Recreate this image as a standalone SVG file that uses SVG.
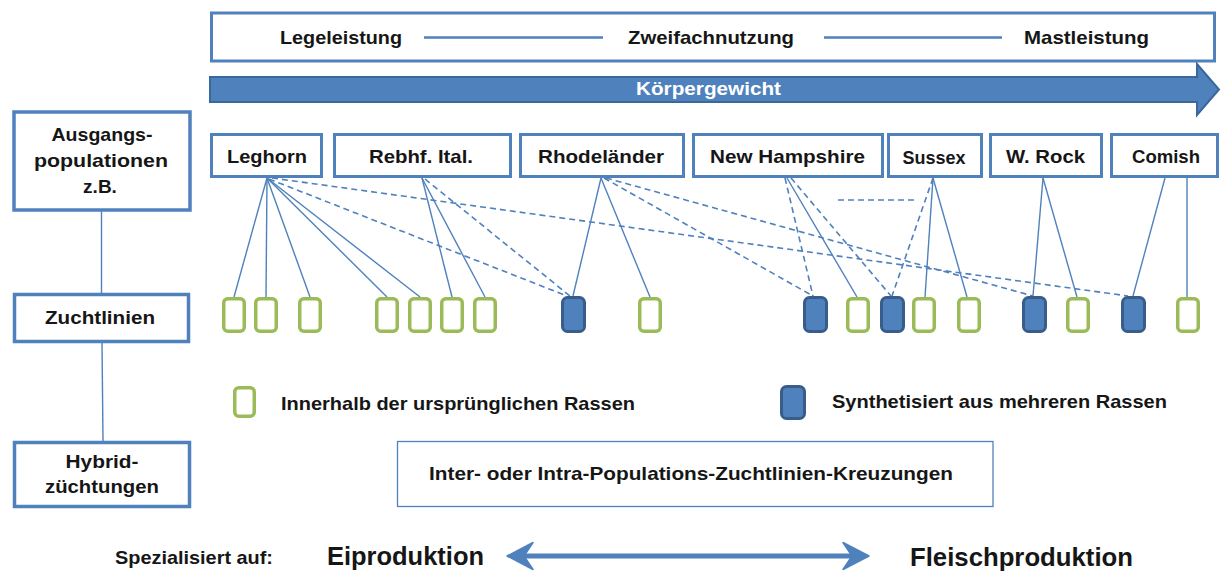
<svg xmlns="http://www.w3.org/2000/svg" width="1224" height="572" viewBox="0 0 1224 572">
<style>
text{font-family:"Liberation Sans",Arial,sans-serif;font-weight:bold;fill:#161616;}
.t19{font-size:19px;}
.t18{font-size:18px;}
.big{font-size:25px;}
.box{fill:#fff;stroke:#4F81BD;stroke-width:3.5;}
.box3{fill:#fff;stroke:#4F81BD;stroke-width:3;}
.thin{fill:#fff;stroke:#4F81BD;stroke-width:1.3;}
.g{fill:#fff;stroke:#9BBB59;stroke-width:3.5;}
.b{fill:#4F81BD;stroke:#385D8A;stroke-width:3;}
.s{stroke:#4F81BD;stroke-width:1.4;fill:none;}
.d{stroke:#4F81BD;stroke-width:1.6;fill:none;stroke-dasharray:6 4;}
</style>

<g id="scale-box">
<rect class="box3" x="211.5" y="13" width="1003" height="48"/>
<text class="t19" x="280" y="44" textLength="122" lengthAdjust="spacingAndGlyphs">Legeleistung</text>
<line x1="424" y1="37.5" x2="603" y2="37.5" stroke="#4F81BD" stroke-width="2.5"/>
<text class="t19" x="628" y="44" textLength="166" lengthAdjust="spacingAndGlyphs">Zweifachnutzung</text>
<line x1="824" y1="37.5" x2="1002" y2="37.5" stroke="#4F81BD" stroke-width="2.5"/>
<text class="t19" x="1024" y="44" textLength="125" lengthAdjust="spacingAndGlyphs">Mastleistung</text>
</g>

<g id="weight-arrow">
<path d="M210,77 L1197,77 L1197,64 L1219,89.5 L1197,115 L1197,102 L210,102 Z" fill="#4F81BD" stroke="#3A679C" stroke-width="2"/>
<text class="t18" x="636" y="95" textLength="145" lengthAdjust="spacingAndGlyphs" style="fill:#fff">Körpergewicht</text>
</g>

<g id="ausgangspopulationen">
<rect class="box" x="14" y="112" width="176" height="98"/>
<text class="t19" x="102" y="141" text-anchor="middle" textLength="101" lengthAdjust="spacingAndGlyphs">Ausgangs-</text>
<text class="t19" x="101" y="167" text-anchor="middle" textLength="134" lengthAdjust="spacingAndGlyphs">populationen</text>
<text class="t19" x="100" y="193" text-anchor="middle">z.B.</text>
</g>

<g id="zuchtlinien">
<rect class="box" x="14.5" y="294.5" width="174" height="47"/>
<text class="t19" x="100" y="324" text-anchor="middle" textLength="110" lengthAdjust="spacingAndGlyphs">Zuchtlinien</text>
</g>

<g id="hybridzuechtungen">
<rect class="box" x="14.5" y="442.5" width="175" height="64"/>
<text class="t19" x="102" y="468" text-anchor="middle" textLength="73" lengthAdjust="spacingAndGlyphs">Hybrid-</text>
<text class="t19" x="102" y="493" text-anchor="middle" textLength="114" lengthAdjust="spacingAndGlyphs">züchtungen</text>
</g>

<g id="breed-leghorn">
<rect class="box3" x="211.5" y="134.5" width="110" height="42"/>
<text class="t19" x="267" y="163" text-anchor="middle" textLength="80" lengthAdjust="spacingAndGlyphs">Leghorn</text>
</g>
<g id="breed-rebhf">
<rect class="box3" x="334.5" y="134.5" width="176" height="42"/>
<text class="t19" x="421" y="163" text-anchor="middle" textLength="104" lengthAdjust="spacingAndGlyphs">Rebhf. Ital.</text>
</g>
<g id="breed-rhodelaender">
<rect class="box3" x="520.5" y="134.5" width="163" height="42"/>
<text class="t19" x="601" y="163" text-anchor="middle" textLength="126" lengthAdjust="spacingAndGlyphs">Rhodeländer</text>
</g>
<g id="breed-newhampshire">
<rect class="box3" x="693.5" y="134.5" width="189" height="42"/>
<text class="t19" x="787.5" y="163" text-anchor="middle" textLength="155" lengthAdjust="spacingAndGlyphs">New Hampshire</text>
</g>
<g id="breed-sussex">
<rect class="box3" x="888.5" y="134.5" width="93" height="42"/>
<text class="t19" x="934" y="164" text-anchor="middle" textLength="63" lengthAdjust="spacingAndGlyphs">Sussex</text>
</g>
<g id="breed-wrock">
<rect class="box3" x="990.5" y="134.5" width="111" height="42"/>
<text class="t19" x="1045.5" y="163" text-anchor="middle" textLength="79" lengthAdjust="spacingAndGlyphs">W. Rock</text>
</g>
<g id="breed-comish">
<rect class="box3" x="1111.5" y="134.5" width="106" height="42"/>
<text class="t19" x="1166" y="163" text-anchor="middle" textLength="68" lengthAdjust="spacingAndGlyphs">Comish</text>
</g>

<g id="connectors">
<line class="s" x1="101.5" y1="211" x2="101.5" y2="293"/>
<line class="s" x1="102" y1="343" x2="103" y2="441"/>
<line class="s" x1="267" y1="178" x2="234" y2="297"/>
<line class="s" x1="267" y1="178" x2="266" y2="297"/>
<line class="s" x1="267" y1="178" x2="310" y2="297"/>
<line class="s" x1="267" y1="178" x2="387" y2="297"/>
<line class="s" x1="267" y1="178" x2="420" y2="297"/>
<line class="d" x1="269" y1="179" x2="567" y2="296"/>
<line class="d" x1="272" y1="178" x2="1128" y2="296"/>
<line class="s" x1="422" y1="178" x2="452" y2="297"/>
<line class="s" x1="422" y1="178" x2="485" y2="297"/>
<line class="d" x1="425" y1="179" x2="570" y2="296"/>
<line class="s" x1="601" y1="178" x2="573" y2="296"/>
<line class="s" x1="601" y1="178" x2="650" y2="297"/>
<line class="d" x1="604" y1="178" x2="813" y2="296"/>
<line class="d" x1="606" y1="178" x2="1033" y2="296"/>
<line class="d" x1="785" y1="178" x2="813" y2="296"/>
<line class="s" x1="787" y1="178" x2="857" y2="297"/>
<line class="d" x1="791" y1="178" x2="891" y2="296"/>
<line class="d" x1="838" y1="200" x2="915" y2="200"/>
<line class="d" x1="933" y1="178" x2="892" y2="296"/>
<line class="s" x1="933" y1="178" x2="925" y2="297"/>
<line class="s" x1="933" y1="178" x2="967" y2="297"/>
<line class="s" x1="1043" y1="178" x2="1033" y2="296"/>
<line class="s" x1="1043" y1="178" x2="1077" y2="297"/>
<line class="s" x1="1165" y1="178" x2="1133" y2="296"/>
<line class="s" x1="1187" y1="178" x2="1187" y2="297"/>
</g>

<g id="lines-green">
<rect class="g" x="223.75" y="298.75" width="20.5" height="32.5" rx="4"/>
<rect class="g" x="255.75" y="298.75" width="20.5" height="32.5" rx="4"/>
<rect class="g" x="299.75" y="298.75" width="20.5" height="32.5" rx="4"/>
<rect class="g" x="376.75" y="298.75" width="20.5" height="32.5" rx="4"/>
<rect class="g" x="409.75" y="298.75" width="20.5" height="32.5" rx="4"/>
<rect class="g" x="441.75" y="298.75" width="20.5" height="32.5" rx="4"/>
<rect class="g" x="474.75" y="298.75" width="20.5" height="32.5" rx="4"/>
<rect class="g" x="639.75" y="298.75" width="20.5" height="32.5" rx="4"/>
<rect class="g" x="847.75" y="298.75" width="20.5" height="32.5" rx="4"/>
<rect class="g" x="913.75" y="298.75" width="20.5" height="32.5" rx="4"/>
<rect class="g" x="958.75" y="298.75" width="20.5" height="32.5" rx="4"/>
<rect class="g" x="1067.75" y="298.75" width="20.5" height="32.5" rx="4"/>
<rect class="g" x="1177.75" y="298.75" width="20.5" height="32.5" rx="4"/>
</g>
<g id="lines-blue">
<rect class="b" x="562.5" y="297.5" width="22" height="34" rx="5"/>
<rect class="b" x="804.5" y="297.5" width="22" height="34" rx="5"/>
<rect class="b" x="881.5" y="297.5" width="22" height="34" rx="5"/>
<rect class="b" x="1023.5" y="297.5" width="22" height="34" rx="5"/>
<rect class="b" x="1122.5" y="297.5" width="22" height="34" rx="5"/>
</g>

<g id="legend-green">
<rect class="g" x="234.75" y="387.75" width="19.5" height="28.5" rx="4"/>
<text class="t19" x="281" y="410" textLength="354" lengthAdjust="spacingAndGlyphs">Innerhalb der ursprünglichen Rassen</text>
</g>
<g id="legend-blue">
<rect class="b" x="781.5" y="386.5" width="23" height="32" rx="5"/>
<text class="t19" x="832" y="408" textLength="335" lengthAdjust="spacingAndGlyphs">Synthetisiert aus mehreren Rassen</text>
</g>

<g id="crossings">
<rect class="thin" x="397.5" y="441.5" width="595.5" height="65"/>
<text class="t19" x="429" y="480" textLength="524" lengthAdjust="spacingAndGlyphs">Inter- oder Intra-Populations-Zuchtlinien-Kreuzungen</text>
</g>

<g id="specialisation">
<text class="t19" x="115" y="564" textLength="158" lengthAdjust="spacingAndGlyphs">Spezialisiert auf:</text>
<text class="big" x="327" y="565" textLength="157" lengthAdjust="spacingAndGlyphs">Eiproduktion</text>
<line x1="522" y1="556" x2="855" y2="556" stroke="#4F81BD" stroke-width="5"/>
<path d="M507,556 L533,542.5 L524,556 L533,569.5 Z" fill="#4F81BD" stroke="#4F81BD" stroke-width="1.5" stroke-linejoin="round"/>
<path d="M869,556 L843,542.5 L852,556 L843,569.5 Z" fill="#4F81BD" stroke="#4F81BD" stroke-width="1.5" stroke-linejoin="round"/>
<text class="big" x="910" y="566" textLength="223" lengthAdjust="spacingAndGlyphs">Fleischproduktion</text>
</g>
</svg>
